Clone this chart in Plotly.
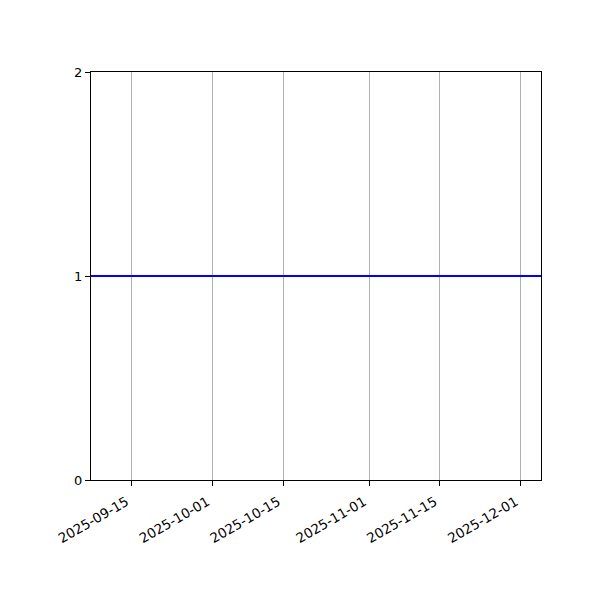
import plotly.graph_objects as go

# series: constant value across the date span
dates = ["2025-09-07", "2025-12-05"]
values = [1, 1]

x_ticks = ["2025-09-15", "2025-10-01", "2025-10-15", "2025-11-01", "2025-11-15", "2025-12-01"]
y_ticks = [0, 1, 2]

fig = go.Figure()
fig.add_trace(go.Scatter(
    x=dates, y=values, mode="lines",
    line=dict(color="blue", width=2),
    showlegend=False,
))

# page body adds ~8px offset, so margins are shifted to compensate
fig.update_layout(
    width=600, height=600,
    margin=dict(l=83, r=67, t=64, b=128),
    plot_bgcolor="white", paper_bgcolor="white",
    font=dict(family="DejaVu Sans", size=13, color="black"),
)
fig.update_xaxes(
    type="date", range=[dates[0], dates[-1]],
    tickvals=x_ticks, ticktext=x_ticks, tickangle=-30,
    tickfont=dict(size=13.5),
    ticklabelshift=-5, ticklabelstandoff=3,
    showgrid=True, gridcolor="#b0b0b0", gridwidth=1,
    showline=True, linecolor="black", linewidth=1, mirror=True,
    ticks="outside", ticklen=5, tickcolor="black",
    zeroline=False,
)
fig.update_yaxes(
    range=[0, 2], tickvals=y_ticks,
    showgrid=False,
    showline=True, linecolor="black", linewidth=1, mirror=True,
    ticks="outside", ticklen=5, tickcolor="black",
    zeroline=False,
)

fig.write_html("out.html")
